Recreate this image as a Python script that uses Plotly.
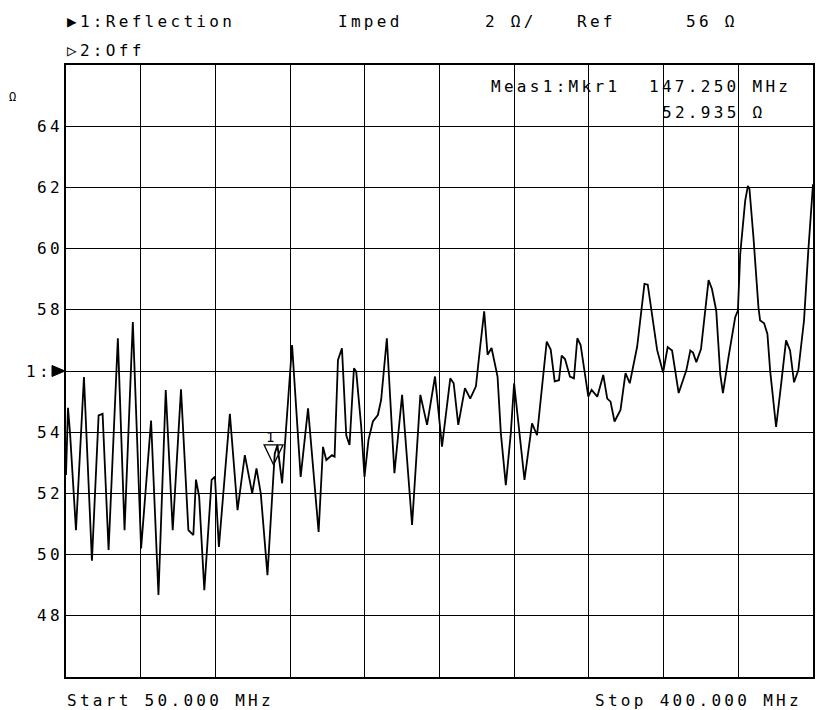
import plotly.graph_objects as go

# Channel 1 reflection, impedance magnitude (ohm) vs frequency (MHz)
freq_mhz = [
    50.0, 50.93, 51.87, 54.67, 58.41, 62.15, 65.28, 67.15, 69.95, 74.30,
    77.43, 81.31, 85.19, 89.86, 93.32, 96.73, 100.00, 103.88, 107.34, 109.67,
    110.89, 112.38, 114.81, 118.22, 119.77, 121.64, 126.78, 130.37, 133.79, 137.24,
    139.25, 141.26, 144.39, 147.80, 149.07, 151.26, 155.93, 159.95, 163.41, 168.36,
    170.42, 171.96, 174.63, 175.84, 177.43, 179.30, 181.31, 182.85, 184.91, 185.98,
    188.32, 189.86, 191.73, 193.79, 196.12, 197.66, 200.33, 203.88, 207.48, 212.15,
    216.03, 219.16, 222.90, 226.17, 230.05, 231.64, 233.79, 236.92, 239.40, 242.06,
    244.07, 245.94, 247.53, 249.39, 252.20, 253.74, 256.07, 258.41, 259.96, 264.82,
    268.37, 270.70, 275.23, 277.10, 278.97, 280.98, 282.24, 283.79, 286.12, 287.99,
    289.58, 291.12, 294.72, 296.26, 298.93, 301.73, 303.60, 305.14, 307.01, 309.81,
    312.15, 314.16, 317.62, 321.03, 322.57, 325.09, 326.96, 329.77, 331.92, 333.97,
    337.06, 340.65, 342.52, 343.79, 345.33, 347.52, 349.53, 351.07, 352.66, 354.67,
    356.54, 357.80, 360.42, 363.55, 364.81, 365.89, 368.22, 369.49, 370.23, 372.10,
    374.44, 375.23, 377.10, 378.64, 379.91, 382.71, 384.91, 387.38, 389.25, 391.12,
    393.13, 395.79, 397.80, 399.39, 400.0,
]
imped_ohm = [
    52.6, 54.8, 54.0, 50.8, 55.8, 49.8, 54.55, 54.6, 50.15, 57.07,
    50.8, 57.6, 50.2, 54.38, 48.68, 55.38, 50.8, 55.4, 50.8, 50.64,
    52.45, 51.9, 48.84, 52.44, 52.55, 50.25, 54.6, 51.45, 53.25, 52.0,
    52.82, 52.0, 49.33, 53.3, 53.58, 52.33, 56.85, 52.54, 54.78, 50.74,
    53.52, 53.09, 53.25, 53.2, 56.36, 56.74, 53.9, 53.58, 56.09, 55.98,
    54.18, 52.54, 53.75, 54.35, 54.56, 55.06, 57.07, 52.66, 55.22, 50.97,
    55.22, 54.24, 55.82, 53.53, 55.76, 55.6, 54.24, 55.44, 55.1, 55.5,
    56.8, 57.95, 56.53, 56.75, 55.82, 53.97, 52.27, 53.97, 55.6, 52.44,
    54.29, 53.9, 56.96, 56.7, 55.66, 55.7, 56.5, 56.39, 55.82, 55.76,
    57.07, 56.85, 55.16, 55.38, 55.16, 55.87, 55.1, 55.0, 54.35, 54.73,
    55.93, 55.6, 56.8, 58.85, 58.82, 57.67, 56.69, 55.95, 56.78, 56.67,
    55.28, 56.02, 56.67, 56.6, 56.29, 56.72, 58.08, 58.97, 58.68, 57.97,
    55.9, 55.28, 56.45, 57.76, 57.97, 59.82, 61.56, 62.05, 61.95, 60.37,
    58.08, 57.65, 57.56, 57.21, 56.02, 54.17, 55.47, 57.0, 56.67, 55.63,
    56.03, 57.65, 59.93, 61.67, 62.1,
]

# Sweep and scale settings
start_mhz, stop_mhz = 50.0, 400.0
ref_ohm, per_div = 56.0, 2.0
y_tick_vals = [64, 62, 60, 58, 54, 52, 50, 48]
y_tick_text = ["64", "62", "60", "58", "54", "52", "50", "48"]

# Marker 1 readout
mkr_freq = 147.25
mkr_ohm = 52.935

FONT = "DejaVu Sans Mono"
L, T = 66, 65  # plot-area origin in page pixels

fig = go.Figure()
fig.add_trace(go.Scatter(
    x=freq_mhz, y=imped_ohm, mode="lines",
    line=dict(color="black", width=1.8), hoverinfo="skip",
))

axis_common = dict(
    showgrid=True, gridcolor="black", gridwidth=1.2,
    showline=True, mirror=True, linecolor="black", linewidth=1.6,
    zeroline=False, showticklabels=False, ticks="",
)
fig.update_xaxes(range=[start_mhz, stop_mhz], tick0=start_mhz,
                 dtick=(stop_mhz - start_mhz) / 10, **axis_common)
fig.update_yaxes(range=[ref_ohm - 5 * per_div, ref_ohm + 5 * per_div],
                 tick0=ref_ohm, dtick=per_div, **axis_common)

annotations = []


def page_text(text, px, py, size=16):
    annotations.append(dict(
        text=text, xref="paper", yref="paper", x=0, y=1,
        xshift=px - L, yshift=T - py, xanchor="left", yanchor="middle",
        showarrow=False, borderpad=0,
        font=dict(family=FONT, size=size, color="black"),
    ))


# Header lines
page_text("\u25B61:Reflection", 66, 21)
page_text("Imped", 337, 21)
page_text("2 \u03A9/", 484, 21)
page_text("Ref", 576, 21)
page_text("56 \u03A9", 685, 21)
page_text("\u25B72:Off", 66, 50)

# Marker readout
page_text("Meas1:Mkr1", 490, 86)
page_text(f"{mkr_freq:.3f} MHz", 648, 86)
page_text(f"{mkr_ohm:.3f} \u03A9", 661, 112)

# Unit label and scale numbers on the left
page_text("\u03A9", 8, 97, size=12)
for v, t in zip(y_tick_vals, y_tick_text):
    annotations.append(dict(
        text=t, xref="paper", yref="y", x=0, y=v, xshift=-30,
        xanchor="left", yanchor="middle", showarrow=False, borderpad=0,
        font=dict(family=FONT, size=16, color="black"),
    ))
annotations.append(dict(
    text="1:", xref="paper", yref="y", x=0, y=ref_ohm, xshift=-41,
    xanchor="left", yanchor="middle", showarrow=False, borderpad=0,
    font=dict(family=FONT, size=16, color="black"),
))

# Marker number above its triangle
annotations.append(dict(
    text="1", xref="x", yref="y", x=mkr_freq, y=mkr_ohm, xshift=-4, yshift=28,
    xanchor="center", yanchor="middle", showarrow=False, borderpad=0,
    font=dict(family=FONT, size=14, color="black"),
))

# Footer
page_text(f"Start {start_mhz:.3f} MHz", 66, 700)
page_text(f"Stop {stop_mhz:.3f} MHz", 594, 700)

shapes = [
    # reference-level pointer on the left edge
    dict(type="path", xref="paper", yref="y", xsizemode="pixel", ysizemode="pixel",
         xanchor=0, yanchor=ref_ohm, path="M -14 5.5 L -14 -5.5 L -1 0 Z",
         fillcolor="black", line=dict(color="black", width=1)),
    # marker 1 triangle, tip on the trace
    dict(type="path", xref="x", yref="y", xsizemode="pixel", ysizemode="pixel",
         xanchor=mkr_freq, yanchor=mkr_ohm, path="M -9.5 20 L 9.5 20 L 0 0 Z",
         line=dict(color="black", width=1.3)),
]

fig.update_layout(
    width=816, height=710,
    margin=dict(l=L, r=1, t=T, b=33),
    paper_bgcolor="white", plot_bgcolor="white",
    showlegend=False, annotations=annotations, shapes=shapes,
)

# Instrument-style wide character pitch: keep each label's left edge fixed
# and let the extra letter spacing run to the right.
spacing_js = """
var gd = document.getElementById('{plot_id}');
function widenText() {
  gd.querySelectorAll('.annotation-text').forEach(function (t) {
    if (t.getAttribute('data-wide') === '1') { return; }
    var left = t.getBBox().x;
    t.setAttribute('text-anchor', 'start');
    t.setAttribute('x', left);
    t.style.letterSpacing = '3.3px';
    t.setAttribute('data-wide', '1');
  });
}
widenText();
gd.on('plotly_afterplot', widenText);
"""

fig.write_html("out.html", post_script=spacing_js)
